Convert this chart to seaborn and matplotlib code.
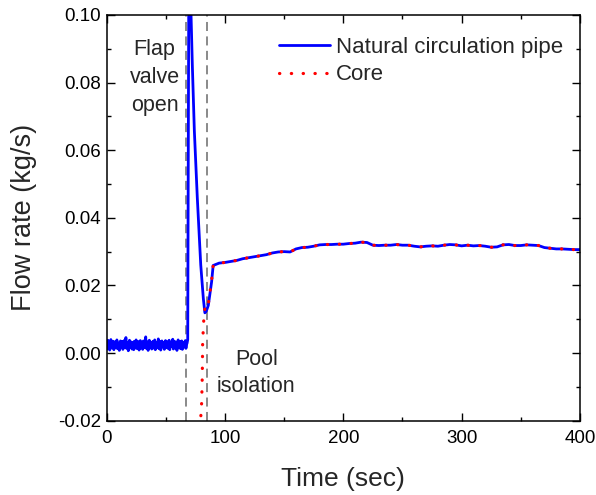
import numpy as np
import pandas as pd
import matplotlib
matplotlib.use("Agg")
import matplotlib.pyplot as plt
from matplotlib.ticker import MultipleLocator
import seaborn as sns

# ---------------- data ----------------
noise_flow_milli = [2.6, 1.2, 3.8, 2.0, 3.1, 0.9, 2.7, 4.0, 1.5, 2.9, 2.2, 3.5, 1.0, 2.8, 3.3, 1.7,
                    2.4, 3.9, 1.3, 2.6, 3.0, 0.8, 2.5, 3.6, 1.9, 2.1, 3.4, 1.1, 2.9, 3.7, 1.6, 2.3,
                    4.6, 1.4, 2.7, 3.2, 0.7, 2.5, 3.8, 1.8, 2.2, 3.3, 1.2, 3.0, 2.4, 1.0, 3.5, 2.6,
                    1.5, 3.9, 2.0, 1.3, 2.8, 3.4, 0.9, 2.3, 3.7, 1.7, 2.9, 2.1, 1.1, 3.6, 2.4, 1.6,
                    3.1, 4.8, 1.4, 2.5, 3.3, 0.8, 2.7, 3.8, 1.9, 2.2, 3.0, 1.2, 2.6, 3.5, 1.5, 2.0,
                    3.9, 1.0, 2.8, 3.2, 1.7, 2.4, 4.2, 1.3, 2.9, 3.4, 0.9, 2.1, 3.6, 1.8, 2.7, 3.1,
                    1.1, 2.5, 3.7, 1.6, 2.3, 3.3, 1.4, 2.9, 3.8, 1.0, 2.6, 3.0, 1.9, 2.2, 4.1, 1.2,
                    2.8, 3.5, 1.5, 2.4, 3.2, 0.8, 2.7, 3.9, 1.7, 2.1, 3.4, 1.3, 2.6, 3.6, 1.1, 2.3,
                    3.1, 1.8, 2.9, 3.7, 1.4, 2.5]
noise_time_end = 67.5

pipe_transient_time = [68.0, 68.5, 69.0, 69.5, 70.0, 70.7, 71.3, 72.4, 74.1, 76.6, 79.5,
                       81.7, 83.0, 84.3, 85.9, 87.5, 88.7]
pipe_transient_flow = [0.003, 0.004, 0.060, 0.120, 0.130, 0.120, 0.100, 0.0851, 0.0657, 0.0459,
                       0.0261, 0.0161, 0.0119, 0.0125, 0.0141, 0.0180, 0.0211]

core_transient_time = [79.0, 80.3, 80.8, 81.1, 81.7, 82.5, 83.3, 84.3, 85.9, 87.5, 88.7]
core_transient_flow = [-0.022, -0.0145, -0.0067, 0.0026, 0.0076, 0.0124, 0.0135, 0.0130,
                       0.0145, 0.0185, 0.0215]

steady_time = list(range(90, 405, 5))
steady_flow = [0.0259, 0.0266, 0.0268, 0.0271, 0.0274, 0.0279, 0.0282, 0.0285, 0.0288, 0.0291,
               0.0296, 0.0299, 0.0300, 0.0299, 0.0308, 0.0312, 0.0313, 0.0316, 0.0320, 0.0321,
               0.0321, 0.0322, 0.0322, 0.0324, 0.0325, 0.0328, 0.0327, 0.0319, 0.0318, 0.0319,
               0.0319, 0.0321, 0.0319, 0.0319, 0.0316, 0.0314, 0.0316, 0.0317, 0.0316, 0.0319,
               0.0321, 0.0320, 0.0317, 0.0319, 0.0317, 0.0318, 0.0316, 0.0313, 0.0314, 0.0320,
               0.0321, 0.0318, 0.0318, 0.0320, 0.0319, 0.0318, 0.0312, 0.0310, 0.0308, 0.0308,
               0.0307, 0.0306, 0.0306]

flap_valve_time = 67.0
pool_isolation_time = 84.5

series_labels = ["Natural circulation pipe", "Core"]
x_ticks = [0, 100, 200, 300, 400]
y_ticks = [-0.02, 0.00, 0.02, 0.04, 0.06, 0.08, 0.10]

# ---------------- build tables ----------------
noise_time = np.linspace(0, noise_time_end, len(noise_flow_milli))
pipe_df = pd.DataFrame({
    "t": list(noise_time) + pipe_transient_time + steady_time,
    "q": [v / 1000 for v in noise_flow_milli] + pipe_transient_flow + steady_flow,
})
core_df = pd.DataFrame({
    "t": core_transient_time + steady_time,
    "q": core_transient_flow + steady_flow,
})

# ---------------- plot ----------------
sns.set_theme(style="ticks")
plt.rcParams["font.family"] = ["Liberation Sans", "DejaVu Sans"]
plt.rcParams["axes.edgecolor"] = "black"

fig = plt.figure(figsize=(5.96, 4.95), dpi=100)
ax = fig.add_axes([0.179, 0.150, 0.794, 0.820])

ax.axvline(flap_valve_time, color="#808080", lw=1.3, ls=(0, (5, 3)), zorder=1)
ax.axvline(pool_isolation_time, color="#808080", lw=1.3, ls=(0, (5, 3)), zorder=1)

sns.lineplot(data=pipe_df, x="t", y="q", ax=ax, color="#0000ff", lw=2.0,
             label=series_labels[0], sort=False, estimator=None, zorder=2)
sns.lineplot(data=core_df, x="t", y="q", ax=ax, color="#ff0000", lw=2.3,
             label=series_labels[1], sort=False, estimator=None, zorder=3,
             dashes=False)
core_line = ax.get_lines()[-1]
core_line.set_linestyle((0, (0.1, 3.6)))
core_line.set_dash_capstyle("round")

ax.set_xlim(0, 400)
ax.set_ylim(-0.02, 0.10)
ax.set_xticks(x_ticks)
ax.set_yticks(y_ticks)
ax.set_yticklabels([f"{v:.2f}" for v in y_ticks])
ax.xaxis.set_minor_locator(MultipleLocator(50))
ax.yaxis.set_minor_locator(MultipleLocator(0.01))
ax.tick_params(which="both", direction="in", top=True, right=True, labelsize=13.5,
               colors="black", width=1)
ax.tick_params(which="major", length=6)
ax.tick_params(which="minor", length=3)
ax.tick_params(axis="x", which="major", pad=7)
ax.tick_params(axis="y", which="major", pad=4)
for s in ax.spines.values():
    s.set_linewidth(1.1)
    s.set_color("black")

ax.set_xlabel("Time (sec)", fontsize=19, labelpad=14)
ax.set_ylabel("Flow rate (kg/s)", fontsize=19.5, labelpad=15)

ax.text(40.5, 0.0815, "Flap\nvalve\nopen", ha="center", va="center", fontsize=15.5,
        linespacing=1.42)
ax.text(126.5, -0.0058, "Pool\nisolation", ha="center", va="center", fontsize=15.5,
        linespacing=1.38)

leg = ax.legend(loc="upper right", bbox_to_anchor=(0.984, 0.967), frameon=False,
                fontsize=16, handlelength=2.3, handletextpad=0.3, labelspacing=0.28,
                borderaxespad=0.0)
leg.get_lines()[1].set_linestyle((0, (0.1, 3.6)))
leg.get_lines()[1].set_dash_capstyle("round")
leg.get_lines()[1].set_linewidth(2.3)

fig.savefig("out.png", dpi=100)
